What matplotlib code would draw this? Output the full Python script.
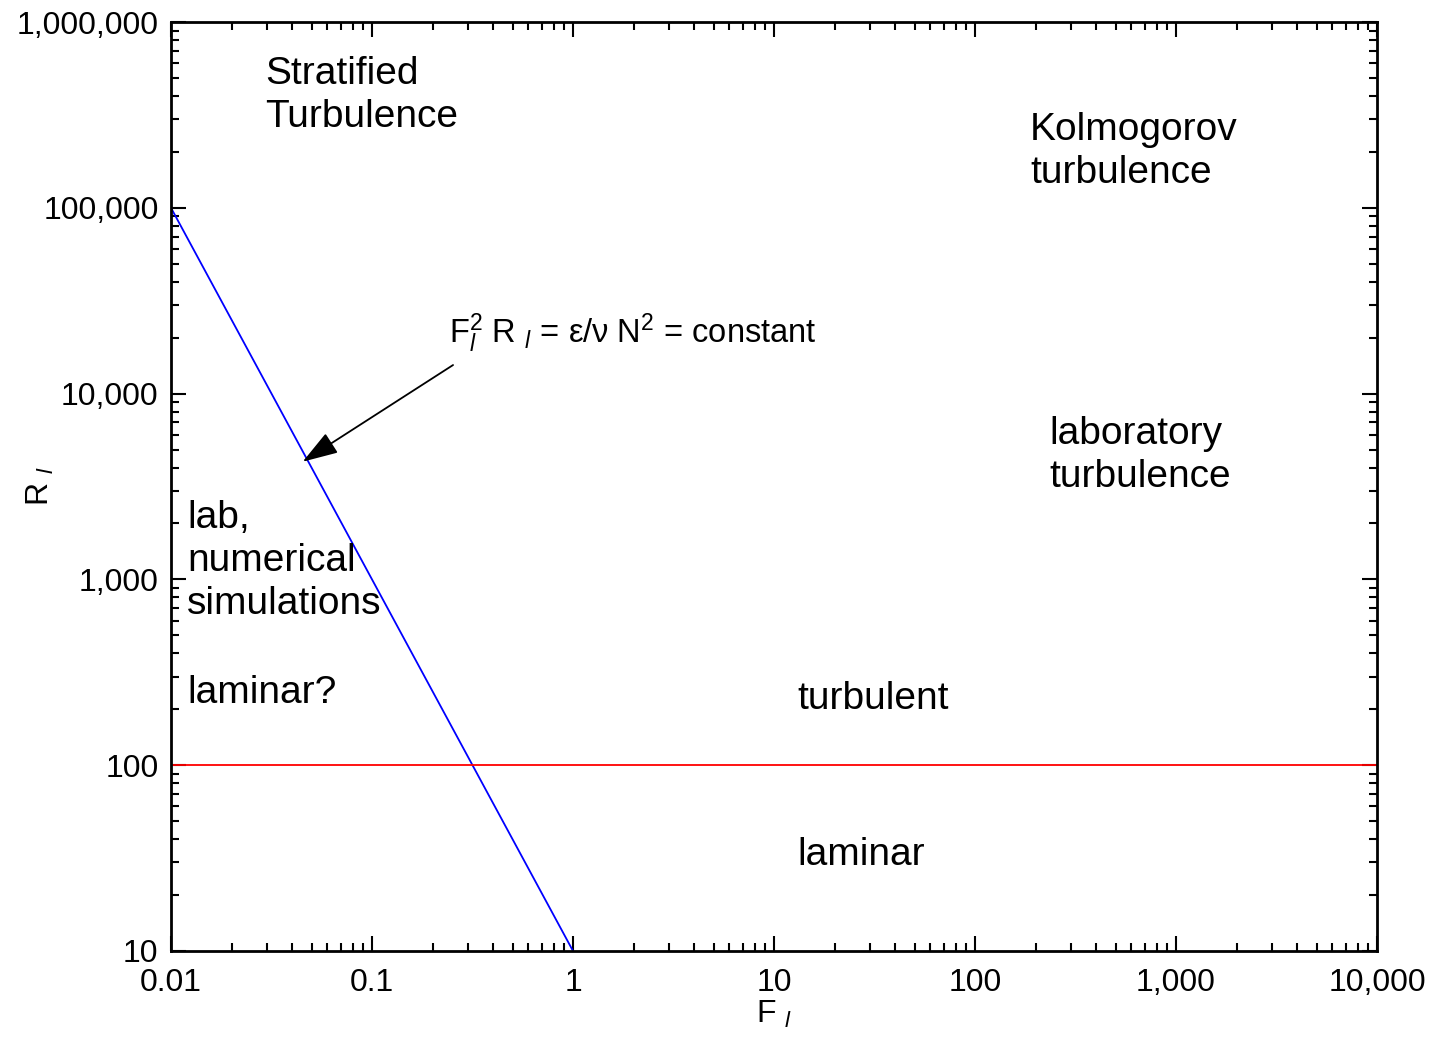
import numpy as np
import matplotlib
matplotlib.use("Agg")
from matplotlib import pyplot as plt
from matplotlib.ticker import FixedLocator, LogLocator, NullFormatter

plt.rcParams['font.family'] = ['Liberation Sans', 'DejaVu Sans']
plt.rcParams['mathtext.fontset'] = 'custom'
plt.rcParams['mathtext.rm'] = 'Liberation Sans'
plt.rcParams['mathtext.it'] = 'Liberation Sans:italic'

# axis ticks
x_ticks = [0.01, 0.1, 1, 10, 100, 1000, 10000]
x_labels = ["0.01", "0.1", "1", "10", "100", "1,000", "10,000"]
y_ticks = [10, 100, 1000, 10000, 100000, 1000000]
y_labels = ["10", "100", "1,000", "10,000", "100,000", "1,000,000"]

# F_l^2 R_l = const line and R_l = 100 threshold
froude = [0.01, 1.0]
reynolds = [100000, 10]
r_threshold = 100

# region labels: (F, R, text)
regions = [
    (0.0294, 4.0e5, "Stratified\nTurbulence"),
    (188, 2.0e5, "Kolmogorov\nturbulence"),
    (233, 4650, "laboratory\nturbulence"),
    (0.0120, 1260, "lab,\nnumerical\nsimulations"),
    (0.0120, 244, "laminar?"),
    (13.0, 228, "turbulent"),
    (13.0, 32.8, "laminar"),
]

fig = plt.figure(figsize=(14.31, 10.39), dpi=100)
ax = fig.add_axes([0.1195, 0.0847, 0.8428, 0.8941])
ax.set_xscale("log")
ax.set_yscale("log")
ax.set_xlim(0.01, 10000)
ax.set_ylim(10, 1000000)

ax.plot(froude, reynolds, color="blue", lw=1.3)
ax.axhline(r_threshold, color="red", lw=1.3)

for fx, ry, txt in regions:
    ax.text(fx, ry, txt, fontsize=28, ha="left", va="center", linespacing=1.25)

# relation label with arrow pointing onto the blue line
ax.text(0.242, 18700, r"F$^2_{\it l}$ R $_{\it l}$ = ε/ν N$^2$ = constant",
        fontsize=23.5, ha="left", va="baseline")
ax.annotate("", xy=(0.0452, 4300), xytext=(0.253, 14250),
            arrowprops=dict(arrowstyle="-|>,head_length=1.1,head_width=0.36",
                            mutation_scale=20, color="black", lw=1.3,
                            shrinkA=0, shrinkB=0))

ax.xaxis.set_major_locator(FixedLocator(x_ticks))
ax.set_xticklabels(x_labels)
ax.yaxis.set_major_locator(FixedLocator(y_ticks))
ax.set_yticklabels(y_labels)
ax.xaxis.set_minor_locator(LogLocator(base=10, subs=np.arange(2, 10)))
ax.yaxis.set_minor_locator(LogLocator(base=10, subs=np.arange(2, 10)))
ax.xaxis.set_minor_formatter(NullFormatter())
ax.yaxis.set_minor_formatter(NullFormatter())

ax.tick_params(which="both", direction="in", top=True, right=True,
               labelsize=23, width=1.5)
ax.tick_params(which="major", length=11)
ax.tick_params(which="minor", length=6)
ax.tick_params(axis="x", which="major", pad=12)
ax.tick_params(axis="y", which="major", pad=9)
for sp in ax.spines.values():
    sp.set_linewidth(2)

ax.set_xlabel(r"F $_{\it l}$", fontsize=23)
ax.xaxis.set_label_coords(0.5, -0.052)
ax.set_ylabel(r"R $_{\it l}$", fontsize=23)
ax.yaxis.set_label_coords(-0.095, 0.5)

fig.savefig("out.png", dpi=100)
